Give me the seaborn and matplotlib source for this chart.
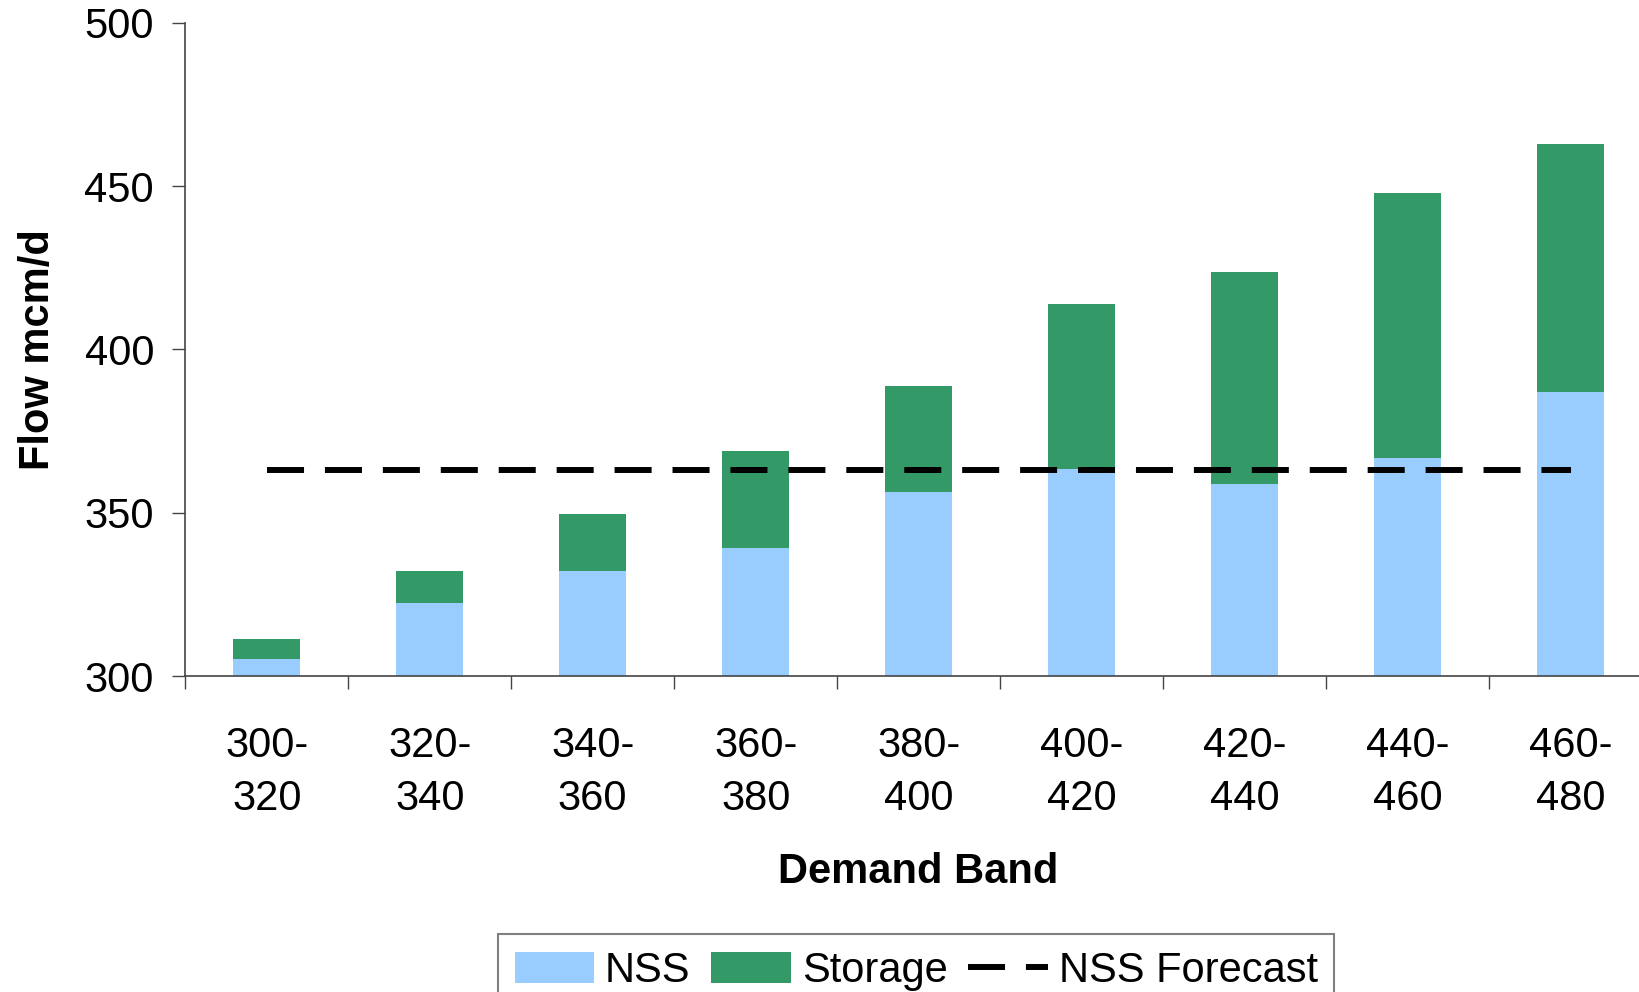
import matplotlib
matplotlib.use("Agg")
import matplotlib.pyplot as plt
import numpy as np
import pandas as pd
import seaborn as sns
from matplotlib.patches import Patch
from matplotlib.lines import Line2D
from matplotlib.ticker import FixedLocator

# ── Data ──────────────────────────────────────────────────────────────────────
BANDS    = ["300-\n320", "320-\n340", "340-\n360", "360-\n380", "380-\n400",
            "400-\n420", "420-\n440", "440-\n460", "460-\n480"]
NSS      = [305.2, 322.4, 332.1, 339.2, 356.2, 363.5, 358.9, 366.9, 386.9]
STORAGE  = [6.1, 9.7, 17.5, 29.7, 32.5, 50.3, 64.8, 81.0, 76.0]
FORECAST = [363.2] * 9
Y_TICKS  = [300, 350, 400, 450, 500]

BLUE  = "#99CCFF"
GREEN = "#339966"
FS    = 30

sns.set_style("ticks")
plt.rcParams["font.family"] = ["Liberation Sans", "DejaVu Sans"]
plt.rcParams["text.color"] = "black"
plt.rcParams["xtick.labelcolor"] = "black"
plt.rcParams["ytick.labelcolor"] = "black"
plt.rcParams["axes.labelcolor"] = "black"

df = pd.DataFrame({"band": BANDS, "nss": NSS, "storage": STORAGE})
df["total"] = df["nss"] + df["storage"]

fig = plt.figure(figsize=(16.39, 9.92), dpi=100)
ax = fig.add_axes([0.113, 0.3185, 0.895, 0.6585])

# stacked bars: total (green) first, NSS (blue) drawn over it
sns.barplot(data=df, x="band", y="total", color=GREEN, width=0.41,
            saturation=1, linewidth=0, ax=ax)
sns.barplot(data=df, x="band", y="nss", color=BLUE, width=0.41,
            saturation=1, linewidth=0, ax=ax)
sns.lineplot(x=np.arange(len(FORECAST)), y=FORECAST, color="black", lw=4.3,
             dashes=False, ax=ax)
ax.lines[-1].set_dashes((6.2, 3.5))

ax.set_ylim(300, 500)
ax.set_xlim(-0.5, len(BANDS) - 0.5)
ax.set_yticks(Y_TICKS)
ax.set_yticklabels([str(v) for v in Y_TICKS], fontsize=FS)
ax.set_xticks(range(len(BANDS)))
ax.set_xticklabels(BANDS, fontsize=FS, linespacing=1.43)
ax.xaxis.set_minor_locator(FixedLocator(np.arange(-0.5, len(BANDS), 1.0)))
ax.tick_params(axis="x", which="major", length=0, pad=36)
ax.tick_params(axis="x", which="minor", length=9, width=1, color="#444444")
ax.tick_params(axis="y", length=9.4, width=1, color="#444444", pad=13)

for side in ["top", "right"]:
    ax.spines[side].set_visible(False)
for side in ["left", "bottom"]:
    ax.spines[side].set_color("#444444")
    ax.spines[side].set_linewidth(1.2)

ax.set_xlabel("Demand Band", fontsize=FS, fontweight="bold")
ax.set_ylabel("Flow mcm/d", fontsize=FS, fontweight="bold")
ax.xaxis.set_label_coords(0.5, -0.27)
ax.yaxis.set_label_coords(-0.087, 0.5)

handles = [
    Patch(facecolor=BLUE, edgecolor="none", label="NSS"),
    Patch(facecolor=GREEN, edgecolor="none", label="Storage"),
    Line2D([], [], color="black", lw=4.3, dashes=(6.2, 3.5), label="NSS Forecast"),
]
leg = fig.legend(handles=handles, loc="upper center", ncol=3,
                 bbox_to_anchor=(0.559, 0.079), fontsize=FS,
                 frameon=True, fancybox=False, framealpha=1,
                 handlelength=1.9, handleheight=0.75, handletextpad=0.27,
                 columnspacing=0.5, borderpad=0.4)
leg.get_frame().set_edgecolor("#808080")
leg.get_frame().set_linewidth(1.5)

fig.savefig("out.png", dpi=100)
